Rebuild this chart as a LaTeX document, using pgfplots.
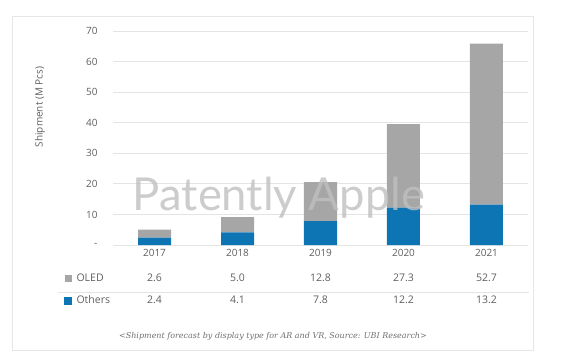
\documentclass[border=0pt]{standalone}
\usepackage{pgfplots}
\pgfplotsset{compat=1.18}
\usepackage{graphicx}
\usepackage{fontspec}
\setmainfont{Open Sans}
\newfontfamily\capfont{DejaVu Serif}
\newfontfamily\wmfont{Lato}
\definecolor{oledgray}{HTML}{A6A6A6}
\definecolor{othblue}{HTML}{0E75B5}
\definecolor{txtgray}{HTML}{5F5F5F}
\definecolor{gridgray}{HTML}{E4E4E4}
\definecolor{framegray}{HTML}{E6E6E6}
\begin{document}
\begin{tikzpicture}[x=1pt,y=1pt]
\useasboundingbox (0,0) rectangle (565,357);
\draw[framegray, line width=0.8pt] (12,7) rectangle (533,341);
\begin{axis}[
  at={(113pt,112pt)}, anchor=south west,
  scale only axis, width=415pt, height=214pt,
  ybar stacked, bar width=33pt,
  xmin=-0.5, xmax=4.5, ymin=0, ymax=70,
  axis line style={draw=none},
  ymajorgrids, grid style={gridgray, line width=0.8pt},
  ytick={0,10,20,30,40,50,60,70},
  yticklabels={-,10,20,30,40,50,60,70},
  xtick={0,1,2,3,4},
  xticklabels={2017,2018,2019,2020,2021},
  major tick length=0pt,
  tick style={draw=none},
  /pgf/number format/assume math mode=true,
  ticklabel style={font=\fontsize{10}{12}\selectfont, text=txtgray},
  yticklabel style={xshift=-12pt},
  xticklabel style={yshift=-1pt},
  clip=false,
]
\addplot[fill=othblue, draw=none] coordinates {(0,2.4) (1,4.1) (2,7.8) (3,12.2) (4,13.2)};
\addplot[fill=oledgray, draw=none] coordinates {(0,2.6) (1,5.0) (2,12.8) (3,27.3) (4,52.7)};
\end{axis}
% y label
\node[rotate=90, text=txtgray, font=\fontsize{10}{12}\selectfont] at (40,250) {Shipment (M Pcs)};
% watermark
\node[anchor=base, text=gray!50, opacity=0.8] at (279,147) {\resizebox{292pt}{!}{\wmfont\fontsize{38}{40}\selectfont Patently Apple}};
% table
\draw[gridgray, line width=0.8pt] (58,65) -- (529,65);
\fill[oledgray] (65,75) rectangle (72,82);
\fill[othblue] (64,52) rectangle (72,60);
\begin{scope}[every node/.style={text=txtgray, font=\fontsize{10.5}{12}\selectfont}]
\node[anchor=west] at (73,79) {OLED};
\node[anchor=west] at (73,57) {Others};
\node at (154.5,79) {2.6};
\node at (237.5,79) {5.0};
\node at (320.5,79) {12.8};
\node at (403.5,79) {27.3};
\node at (486.5,79) {52.7};
\node at (154.5,57) {2.4};
\node at (237.5,57) {4.1};
\node at (320.5,57) {7.8};
\node at (403.5,57) {12.2};
\node at (486.5,57) {13.2};
\end{scope}
\node[text=txtgray!90, font=\capfont\itshape\fontsize{8}{10}\selectfont] at (273,21) {<Shipment forecast by display type for AR and VR, Source: UBI Research>};
\end{tikzpicture}
\end{document}
